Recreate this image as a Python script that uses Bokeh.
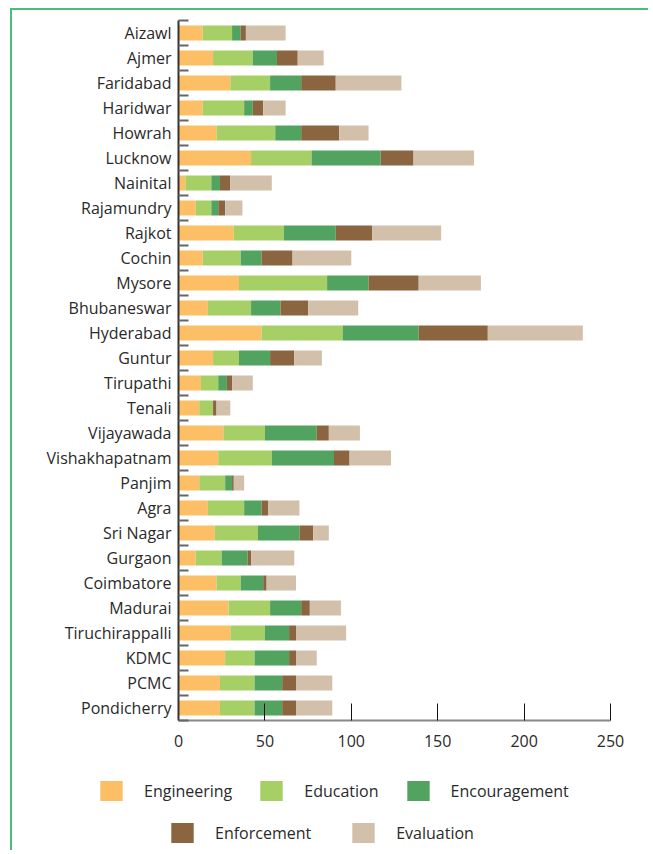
from bokeh.plotting import figure
from bokeh.models import ColumnDataSource, Range1d, FixedTicker, Legend, LegendItem
from bokeh.layouts import column
from bokeh.embed import file_html
from bokeh.resources import INLINE

cities = ["Aizawl", "Ajmer", "Faridabad", "Haridwar", "Howrah", "Lucknow", "Nainital",
          "Rajamundry", "Rajkot", "Cochin", "Mysore", "Bhubaneswar", "Hyderabad", "Guntur",
          "Tirupathi", "Tenali", "Vijayawada", "Vishakhapatnam", "Panjim", "Agra",
          "Sri Nagar", "Gurgaon", "Coimbatore", "Madurai", "Tiruchirappalli", "KDMC",
          "PCMC", "Pondicherry"]

engineering = [14, 20, 30, 14, 22, 42, 4, 10, 32, 14, 35, 17, 48, 20, 13, 12, 26, 23, 12, 17, 21, 10, 22, 29, 30, 27, 24, 24]
education = [17, 23, 23, 24, 34, 35, 15, 9, 29, 22, 51, 25, 47, 15, 10, 8, 24, 31, 15, 21, 25, 15, 14, 24, 20, 17, 20, 20]
encouragement = [5, 14, 18, 5, 15, 40, 5, 4, 30, 12, 24, 17, 44, 18, 5, 0, 30, 36, 4, 10, 24, 15, 13, 18, 14, 20, 16, 16]
enforcement = [3, 12, 20, 6, 22, 19, 6, 4, 21, 18, 29, 16, 40, 14, 3, 2, 7, 9, 1, 4, 8, 2, 2, 5, 4, 4, 8, 8]
evaluation = [23, 15, 38, 13, 17, 35, 24, 10, 40, 34, 36, 29, 55, 16, 12, 8, 18, 24, 6, 18, 9, 25, 17, 18, 29, 12, 21, 21]

series = ["Engineering", "Education", "Encouragement", "Enforcement", "Evaluation"]
colors = ["#FCBF66", "#A6CF66", "#52A360", "#8A6540", "#D3C0AB"]
x_ticks = [0, 50, 100, 150, 200, 250]

FONT = "Open Sans"
TEXT = "#2a2a2a"

n = len(cities)
centers = [i + 0.5 for i in range(n)]
source = ColumnDataSource(dict(
    y=centers,
    Engineering=engineering,
    Education=education,
    Encouragement=encouragement,
    Enforcement=enforcement,
    Evaluation=evaluation,
))

W = 636
p = figure(width=W, height=750, output_backend="svg", toolbar_location=None,
           x_range=Range1d(0, 250), y_range=Range1d(n, 0),
           min_border_left=166, min_border_right=38, min_border_top=10, min_border_bottom=40)
p.frame_align = False
p.outline_line_color = None
p.grid.visible = False
p.background_fill_color = "white"
p.border_fill_color = "white"

renderers = p.hbar_stack(series, y="y", height=0.6, color=colors, line_color=None, source=source)

# y axis: labels at category centres, minor ticks at boundaries
p.yaxis.ticker = FixedTicker(ticks=centers, minor_ticks=list(range(n + 1)))
p.yaxis.major_label_overrides = {c: name for c, name in zip(centers, cities)}
p.yaxis.major_tick_in = 0
p.yaxis.major_tick_out = 0
p.yaxis.minor_tick_in = 10
p.yaxis.minor_tick_out = 0
p.yaxis.minor_tick_line_color = "#666666"
p.yaxis.minor_tick_line_width = 2
p.yaxis.axis_line_color = "#333333"
p.yaxis.axis_line_width = 2
p.yaxis.major_label_standoff = 7
p.yaxis.major_label_text_font = FONT
p.yaxis.major_label_text_font_size = "16px"
p.yaxis.major_label_text_color = TEXT

# x axis
p.xaxis.ticker = FixedTicker(ticks=x_ticks)
p.xaxis.major_tick_in = 17
p.xaxis.major_tick_out = 0
p.xaxis.major_tick_line_color = "#111111"
p.xaxis.major_tick_line_width = 1
p.xaxis.minor_tick_line_color = None
p.xaxis.axis_line_color = "#888888"
p.xaxis.axis_line_width = 2
p.xaxis.major_label_standoff = 14
p.xaxis.major_label_text_font = FONT
p.xaxis.major_label_text_font_size = "16px"
p.xaxis.major_label_text_color = TEXT

# legend panel (separate figure; its stacked bars sit outside its visible range)
lf = figure(width=W, height=90, output_backend="svg", toolbar_location=None,
            x_axis_type=None, y_axis_type=None,
            x_range=Range1d(0, 250), y_range=Range1d(100, 190),
            min_border_left=0, min_border_right=0, min_border_top=0, min_border_bottom=0)
lf.frame_align = False
lf.outline_line_color = None
lf.background_fill_color = "white"
lf.border_fill_color = "white"
legend_renderers = lf.hbar_stack(series, y="y", height=0.6, color=colors, line_color=None, source=source)

rows = [([0, 1, 2], (85, 47), 25), ([3, 4], (156, 5), 38)]
for idx, loc, spacing in rows:
    lg = Legend(items=[LegendItem(label=series[i], renderers=[legend_renderers[i]]) for i in idx],
                location=loc, orientation="horizontal",
                glyph_width=28, glyph_height=25, label_standoff=19, spacing=spacing,
                padding=0, margin=0, border_line_color=None,
                background_fill_alpha=0,
                label_text_font=FONT, label_text_font_size="16px",
                label_text_color=TEXT)
    lf.add_layout(lg)

layout = column(p, lf, spacing=0)
layout.styles = {"border-left": "2px solid #4DBB7A", "border-top": "2px solid #4DBB7A",
                 "margin-left": "10px", "margin-top": "8px"}

open("out.html", "w").write(file_html(layout, INLINE))
